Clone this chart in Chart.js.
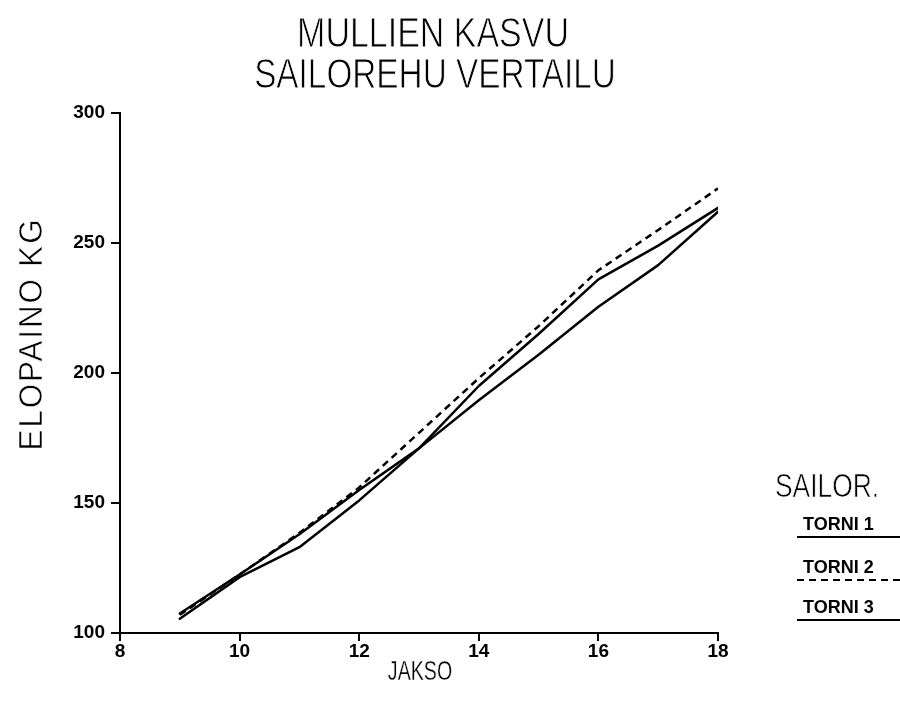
<!DOCTYPE html>
<html>
<head>
<meta charset="utf-8">
<script src="https://cdn.jsdelivr.net/npm/chart.js@4/dist/chart.umd.min.js"></script>
<style>
  html, body { margin: 0; padding: 0; background: #fff; }
  #wrap { width: 900px; height: 710px; position: relative; }
</style>
</head>
<body>
<div id="wrap"><canvas id="c" width="900" height="710"></canvas></div>
<script>
// Growth periods (JAKSO) and live weight (ELOPAINO, kg) per silage tower
const periods = [9, 10, 11, 12, 13, 14, 15, 16, 17, 18];
const torni1 = [107.5, 122.5, 138, 155, 171, 189.5, 207, 225.5, 241.5, 262];
const torni2 = [107, 122.5, 138.5, 156, 177, 198, 218, 239.5, 255, 271];
const torni3 = [105.5, 121.5, 133, 151, 171, 195, 215, 236, 249, 263.5];

const seriesNames = ['TORNI 1', 'TORNI 2', 'TORNI 3'];
const xTickValues = [8, 10, 12, 14, 16, 18];
const yTickValues = [100, 150, 200, 250, 300];

const titleLines = ['MULLIEN KASVU', 'SAILOREHU VERTAILU'];
const xAxisTitle = 'JAKSO';
const yAxisTitle = 'ELOPAINO KG';
const legendTitle = 'SAILOR.';

const toPoints = vals => periods.map((p, i) => ({ x: p, y: vals[i] }));

const INK = '#000';
const face = 'Liberation Sans, Arial, sans-serif';

// Light, condensed lettering: squeeze horizontally and shave the strokes
function lightText(ctx, text, x, y, size, squeeze, align, spacing, shave) {
  ctx.save();
  ctx.translate(x, y);
  ctx.scale(squeeze, 1);
  ctx.font = size + 'px ' + face;
  ctx.textAlign = align;
  ctx.textBaseline = 'alphabetic';
  ctx.letterSpacing = (spacing || 0) + 'px';
  ctx.fillStyle = INK;
  ctx.fillText(text, 0, 0);
  if (shave) {
    ctx.strokeStyle = '#fff';
    ctx.lineWidth = shave;
    ctx.strokeText(text, 0, 0);
  }
  ctx.restore();
}

// Free text: title, axis titles and the underlined legend
const decor = {
  id: 'decor',
  afterDraw(chart) {
    const ctx = chart.ctx;
    ctx.save();

    lightText(ctx, titleLines[0], 433, 47, 43, 0.79, 'center', 0, 0.9);
    lightText(ctx, titleLines[1], 435, 88, 43, 0.775, 'center', 0, 0.9);

    lightText(ctx, xAxisTitle, 420, 680, 28, 0.7, 'center', 0, 0.3);

    ctx.save();
    ctx.translate(42, 334);
    ctx.rotate(-Math.PI / 2);
    lightText(ctx, yAxisTitle, 0, 0, 33, 0.95, 'center', 2, 0.6);
    ctx.restore();

    lightText(ctx, legendTitle, 775, 497, 33, 0.8, 'left', 0, 0.7);

    const rows = [530, 573, 613];
    ctx.fillStyle = INK;
    ctx.strokeStyle = INK;
    ctx.textAlign = 'left';
    chart.data.datasets.forEach((ds, i) => {
      ctx.font = 'bold 18px ' + face;
      ctx.fillText(ds.label, 803, rows[i]);
      ctx.beginPath();
      ctx.lineWidth = 2;
      ctx.setLineDash(ds.borderDash || []);
      ctx.moveTo(797, rows[i] + 7);
      ctx.lineTo(900, rows[i] + 7);
      ctx.stroke();
      ctx.setLineDash([]);
    });
    ctx.restore();
  }
};

const lineStyle = {
  borderColor: INK,
  borderWidth: 2.5,
  pointRadius: 0,
  tension: 0,
  fill: false,
  borderJoinStyle: 'round',
  borderCapStyle: 'round'
};

new Chart(document.getElementById('c'), {
  type: 'line',
  data: {
    datasets: [
      Object.assign({ label: seriesNames[0], data: toPoints(torni1) }, lineStyle),
      Object.assign({ label: seriesNames[1], data: toPoints(torni2) }, lineStyle, { borderDash: [7, 5], borderCapStyle: 'butt' }),
      Object.assign({ label: seriesNames[2], data: toPoints(torni3) }, lineStyle)
    ]
  },
  options: {
    responsive: false,
    animation: false,
    devicePixelRatio: 1,
    layout: { padding: { top: 113, right: 182, left: 0, bottom: 0 } },
    plugins: {
      legend: { display: false },
      title: { display: false },
      tooltip: { enabled: false }
    },
    scales: {
      x: {
        type: 'linear',
        min: 8,
        max: 18,
        afterBuildTicks: s => { s.ticks = xTickValues.map(v => ({ value: v })); },
        afterFit: s => { s.height = 77; },
        grid: { drawOnChartArea: false, tickLength: 8, color: INK, lineWidth: 2 },
        border: { color: INK, width: 2 },
        ticks: { color: INK, padding: -1, maxRotation: 0, font: { family: face, weight: 'bold', size: 19 } }
      },
      y: {
        type: 'linear',
        min: 100,
        max: 300,
        afterBuildTicks: s => { s.ticks = yTickValues.map(v => ({ value: v })); },
        afterFit: s => { s.width = 120; },
        grid: { drawOnChartArea: false, tickLength: 9, color: INK, lineWidth: 2 },
        border: { color: INK, width: 2 },
        ticks: { color: INK, padding: 6, font: { family: face, weight: 'bold', size: 19 } }
      }
    }
  },
  plugins: [decor]
});
</script>
</body>
</html>
